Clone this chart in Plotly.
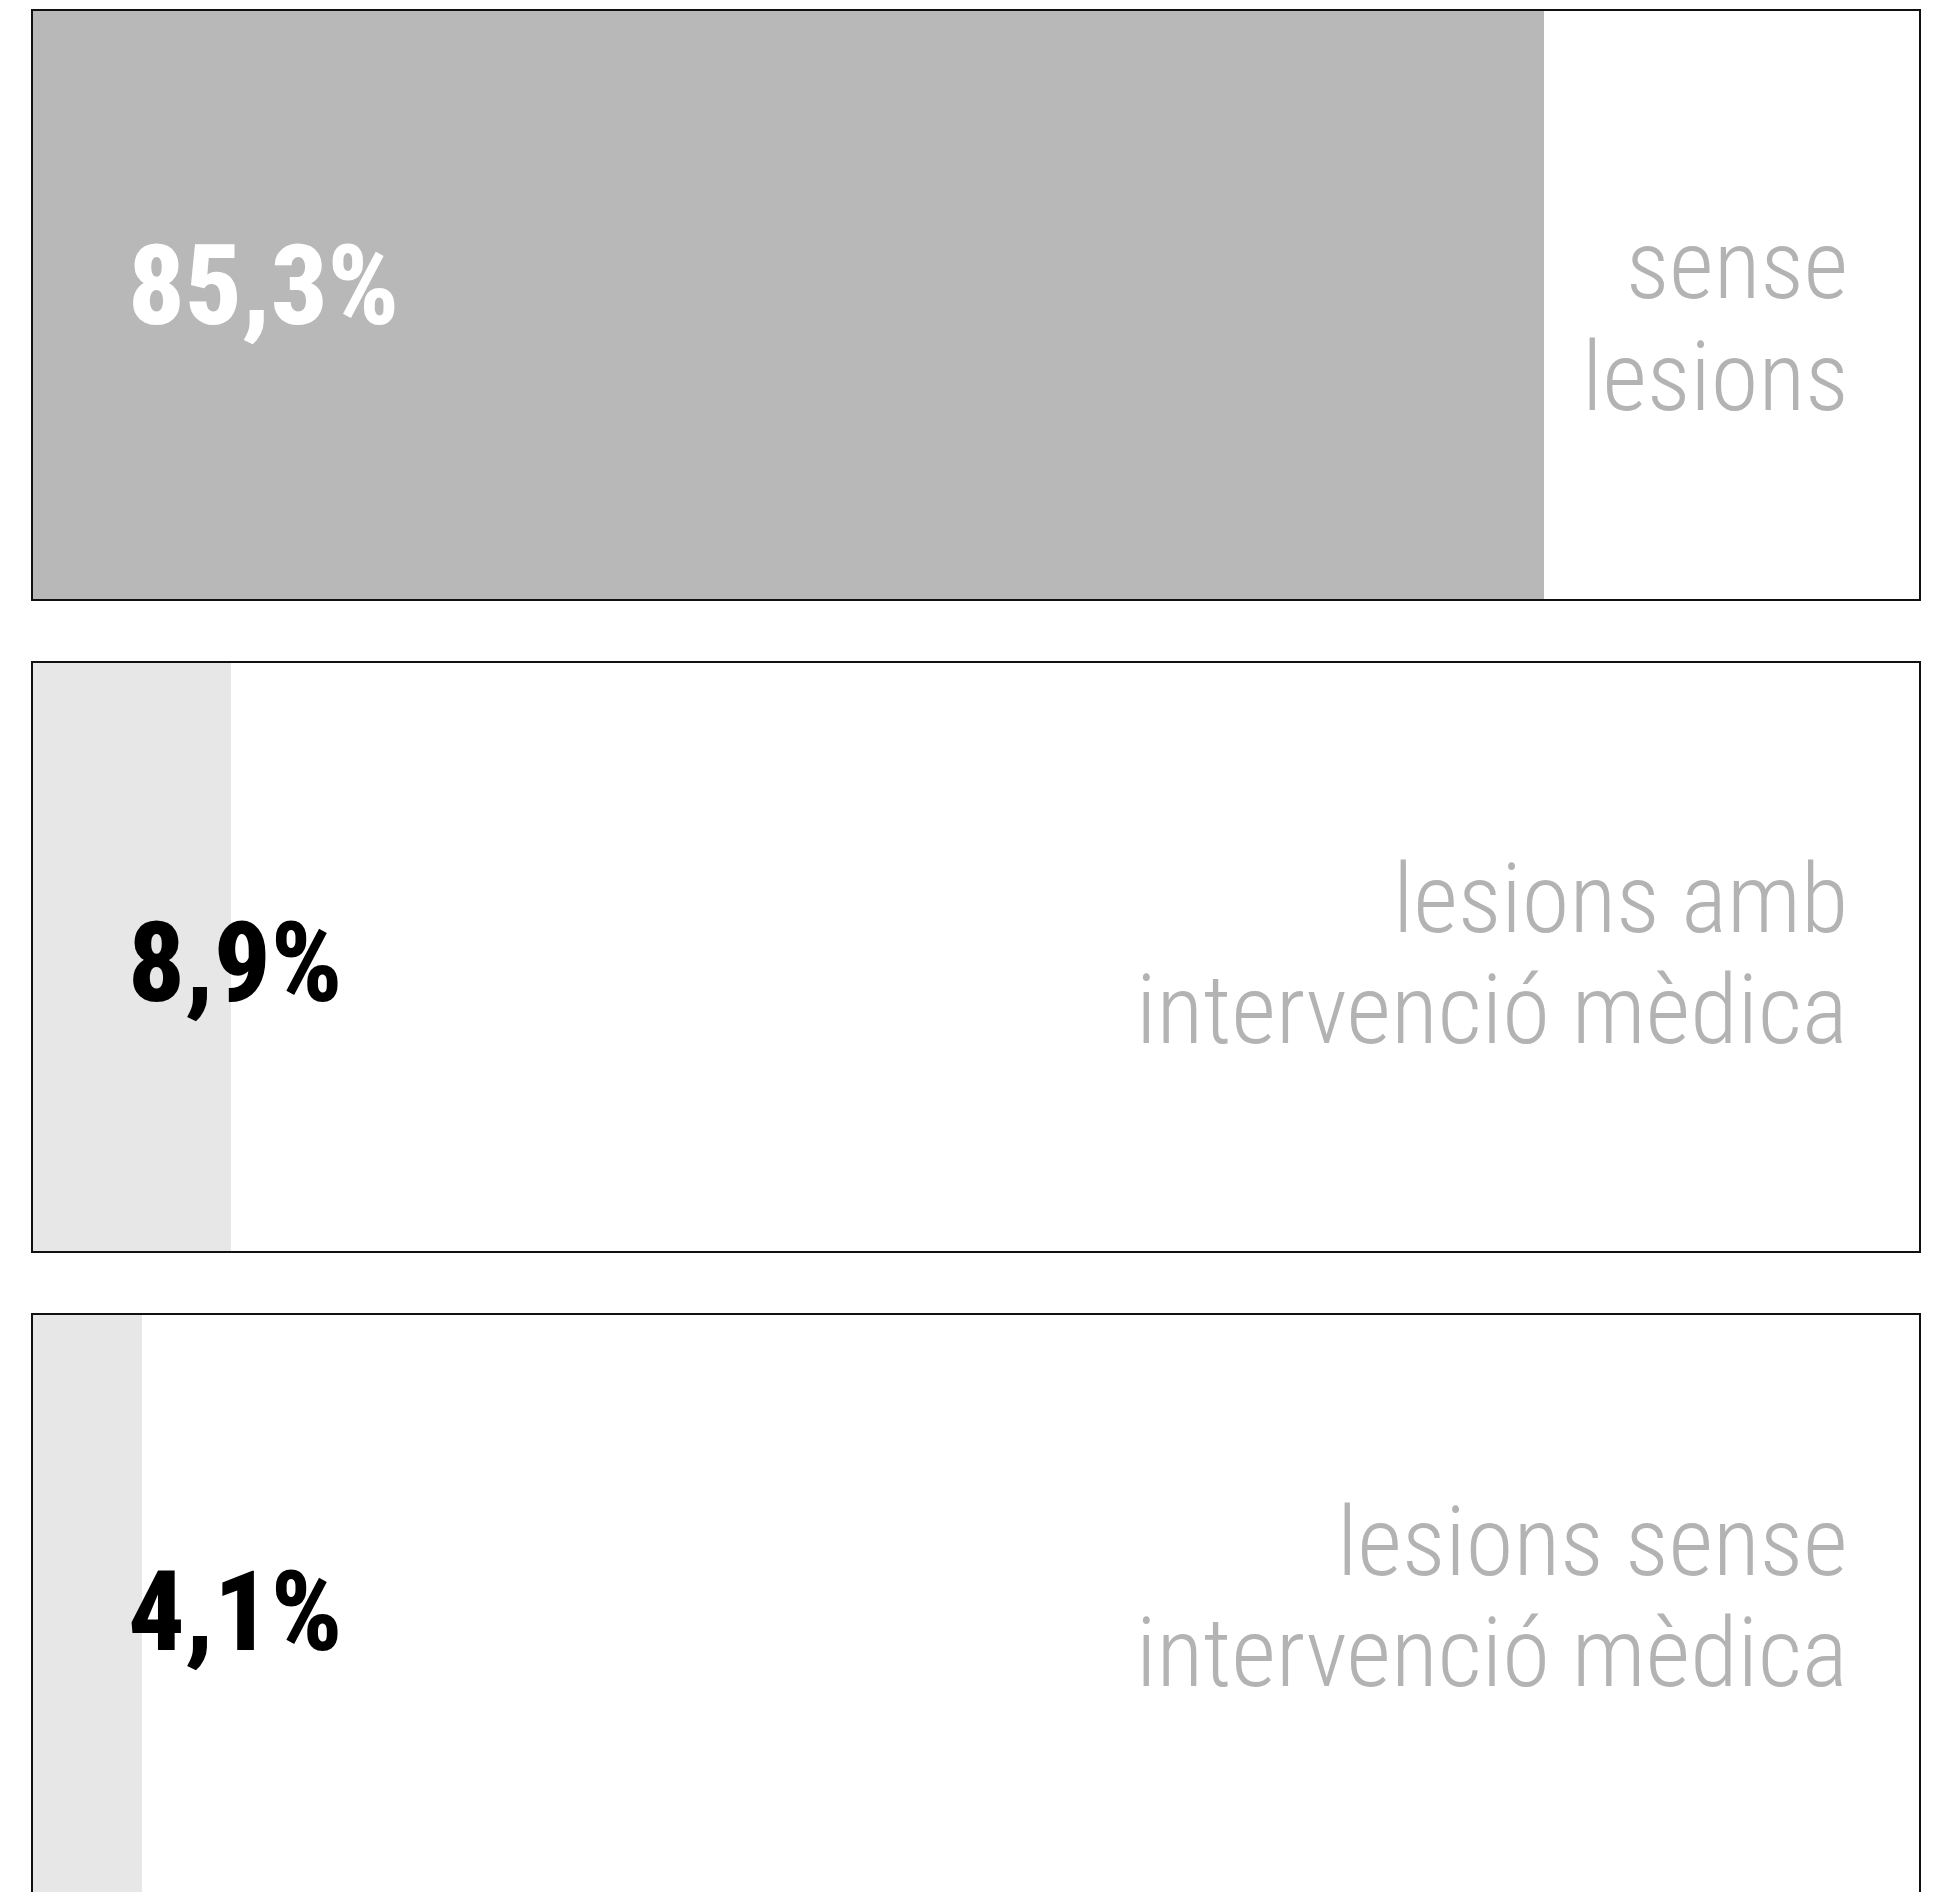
import plotly.graph_objects as go
from plotly.subplots import make_subplots

# ---- data ----
categories = ["sense lesions", "lesions amb intervenció mèdica", "lesions sense intervenció mèdica"]
values = [85.3, 8.9, 4.1]                      # percent shown as labels
bar_extent = [80.1, 10.5, 5.8]                 # drawn bar length, % of box width
label_lines = [["sense", "lesions"],
               ["lesions amb", "intervenció mèdica"],
               ["lesions sense", "intervenció mèdica"]]
value_text = [f"{v:.1f}".replace(".", ",") + "%" for v in values]

# ---- style ----
bar_colors = ["#b8b8b8", "#e7e7e7", "#e7e7e7"]
value_colors = ["#ffffff", "#000000", "#000000"]
label_color = "#b3b3b3"
border_color = "#111111"
BODY = 8                                   # default html body margin
W, H = 1942 - 2 * BODY, 1884
ML, MT, MB = 33 - BODY, 11 - BODY, 0
MR = W - ML - 1886
plot_h = H - MT - MB
page_bottom = BODY + H - MB                # page y of bottom of plot area

# box pixel tops/bottoms (page coords)
boxes = [(11, 599), (663, 1251), (1315, 1892)]
full_box_h = 588

fig = make_subplots(rows=3, cols=1)

for i, (top, bot) in enumerate(boxes):
    r = i + 1
    fig.add_trace(go.Bar(x=[bar_extent[i]], y=[0], orientation="h", width=1,
                         marker=dict(color=bar_colors[i], line=dict(width=0)),
                         hoverinfo="skip", showlegend=False), row=r, col=1)
    d0 = (page_bottom - bot) / plot_h
    d1 = (page_bottom - top) / plot_h
    vis_h = bot - top
    s = "" if r == 1 else str(r)
    fig.update_layout(**{
        f"yaxis{s}": dict(domain=[max(0, d0), min(1, d1)],
                          range=[0.5 - vis_h / full_box_h, 0.5],
                          showticklabels=False, ticks="", showgrid=False, zeroline=False,
                          showline=True, mirror=True, linecolor=border_color, linewidth=2,
                          fixedrange=True),
        f"xaxis{s}": dict(range=[0, 100], showticklabels=False, ticks="", showgrid=False,
                          zeroline=False, showline=True,
                          mirror=(r != 3), side=("top" if r == 3 else "bottom"),
                          linecolor=border_color, linewidth=2, fixedrange=True),
    })

# text placement (pixel offsets from box top)
value_cap_center = [274, 299, 296]
label_line_centers = [[254, 366], [236, 347], [227, 338]]

annotations = []
for i, (top, bot) in enumerate(boxes):
    r = i + 1
    s = "" if r == 1 else str(r)
    vis_h = bot - top
    annotations.append(dict(
        text=value_text[i], x=5.0, xref=f"x{s}",
        y=1 - value_cap_center[i] / vis_h, yref=f"y{s} domain",
        xanchor="left", yanchor="middle", showarrow=False, borderpad=0,
        font=dict(family="Roboto Condensed, Liberation Sans, sans-serif", size=112,
                  color=value_colors[i], weight=800)))
    for j, line in enumerate(label_lines[i]):
        annotations.append(dict(
            text=line, x=96.28, xref=f"x{s}",
            y=1 - label_line_centers[i][j] / vis_h, yref=f"y{s} domain",
            xanchor="right", yanchor="middle", showarrow=False, borderpad=0,
            font=dict(family="Roboto Condensed, DejaVu Sans Condensed, sans-serif",
                      size=97, color=label_color, weight=300)))

fig.update_layout(width=W, height=H, margin=dict(l=ML, r=MR, t=MT, b=MB),
                  paper_bgcolor="white", plot_bgcolor="white",
                  annotations=annotations, bargap=0, showlegend=False)

fig.write_html("out.html", config={"displayModeBar": False})
